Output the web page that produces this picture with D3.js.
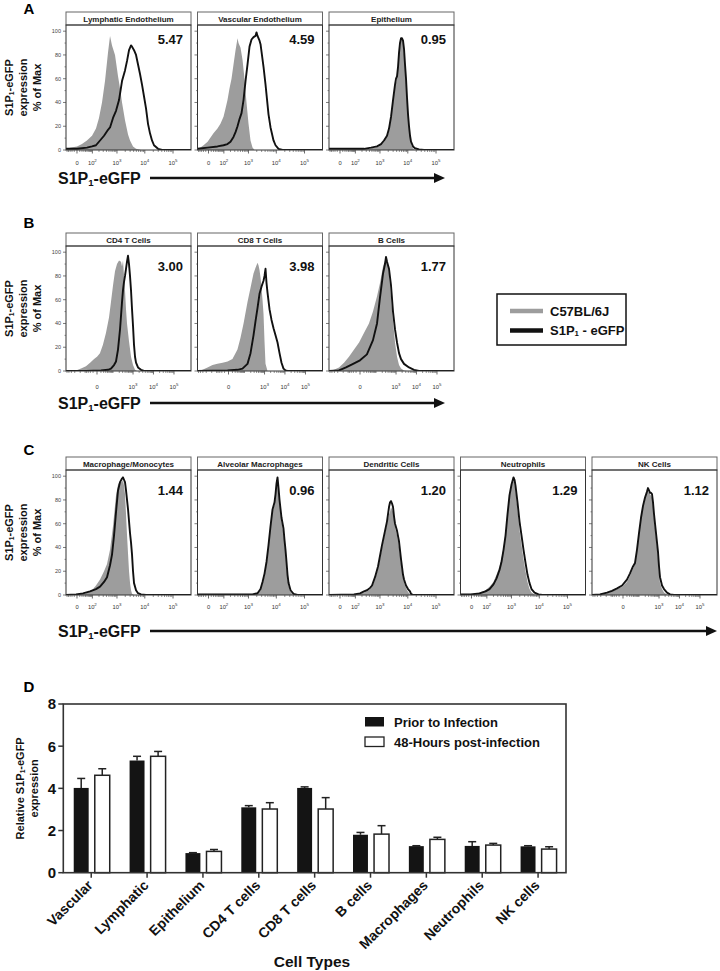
<!DOCTYPE html>
<html>
<head>
<meta charset="utf-8">
<title>S1P1-eGFP expression by cell type</title>
<style>
  body { margin: 0; background: #fff; }
  svg { display: block; font-family: "Liberation Sans", Arial, Helvetica, sans-serif; }
</style>
</head>
<body>
<svg id="fig" width="720" height="971"></svg>
<script src="https://cdn.jsdelivr.net/npm/d3@7"></script>
<script>
// ---------- histogram data: [fluorescence, % of max] ----------
// row A
const ctrlLymph = [[-58,1],[-25,2],[0,3],[20,5],[50,8],[96,12],[148,18],[200,27],[267,40],[352,58],[461,82],[550,96],[654,88],[846,80],[1092,62],[1292,52],[1528,40],[1960,25],[2520,13],[2972,8],[3804,3],[4872,1],[7340,0]];
const gfpLymph = [[-58,1],[0,1],[50,2],[96,3],[148,4],[221,8],[322,12],[461,17],[550,19],[713,27],[922,33],[1188,42],[1528,58],[1960,67],[2320,75],[2736,84],[3228,88],[3504,87],[4132,84],[4872,80],[5740,72],[6760,64],[7960,55],[9380,45],[11040,35],[13000,22],[15300,14],[18000,8],[21200,4],[29500,1],[41000,0]];
const ctrlVasc = [[-58,1],[-37,2],[-20,4],[-3,7],[20,14],[43,18],[66,22],[96,28],[120,35],[148,42],[182,52],[221,60],[267,72],[322,84],[386,94],[422,90],[504,86],[600,76],[713,60],[846,40],[1004,22],[1188,8],[1404,2],[1660,0]];
const gfpVasc = [[-58,1],[-3,2],[43,3],[96,4],[148,5],[200,7],[267,11],[322,15],[386,20],[461,26],[550,31],[654,42],[777,58],[922,72],[1092,87],[1292,93],[1528,95],[1804,96],[1960,99],[2132,96],[2520,92],[2736,89],[3504,70],[4132,55],[5280,30],[6232,19],[7960,8],[9380,4],[12000,1],[16700,0]];
const ctrlEpi = [[-58,0.5],[386,1],[922,3],[1404,7],[1804,11],[2132,16],[2520,26],[2972,40],[3504,53],[4132,60],[4872,80],[5740,92],[6232,93],[6760,90],[7960,70],[9380,42],[11040,18],[13000,5],[15300,1],[18000,0]];
const gfpEpi = [[-58,1],[43,1],[243,1],[461,2],[777,3],[1092,5],[1404,8],[1804,12],[2132,18],[2520,28],[2972,42],[3504,55],[3804,60],[4132,62],[4488,70],[4872,82],[5280,90],[5740,94],[6232,94],[6760,92],[7340,85],[7960,72],[8640,60],[9380,44],[10180,30],[11040,20],[12000,12],[13000,7],[15300,3],[18000,1.5],[25000,0.5],[37600,0]];
// row B
const ctrlCD4 = [[-562,0],[-171,0.5],[-90,2],[-44,4],[-21,7],[-7,10],[0,12],[7,15],[17,22],[31,32],[51,45],[68,58],[90,72],[117,84],[151,90],[194,93],[247,92],[278,88],[313,93],[353,80],[396,68],[445,52],[500,40],[630,25],[794,12],[998,5],[1253,1],[1573,0]];
const gfpCD4 = [[-562,0],[-44,0],[10,0.5],[44,1],[68,2],[103,5],[133,8],[171,18],[219,35],[278,58],[313,68],[353,75],[396,80],[445,86],[500,92],[562,97],[630,90],[707,80],[794,68],[891,52],[998,38],[1118,22],[1253,12],[1404,7],[1760,3],[2471,1],[3465,0]];
const ctrlCD8 = [[-562,0],[-313,1],[-171,3],[-90,5],[-44,6],[-17,7],[-2,8],[10,10],[31,18],[51,28],[79,40],[133,58],[194,70],[278,82],[353,87],[445,91],[500,89],[562,85],[630,79],[707,70],[794,60],[891,48],[998,25],[1118,6],[1404,0]];
const gfpCD8 = [[-562,0],[-2,0.5],[31,1],[68,2],[133,6],[194,15],[278,30],[353,42],[445,53],[562,65],[707,71],[891,76],[998,80],[1118,86],[1253,74],[1404,66],[1760,52],[2207,43],[2767,36],[3465,30],[4340,24],[5436,15],[6795,7],[8500,2],[10660,0.5],[13340,0]];
const ctrlBcell = [[-562,0],[-313,1],[-171,3],[-90,7],[-44,12],[-17,18],[-2,24],[10,32],[31,40],[59,50],[103,63],[151,74],[219,88],[278,93],[313,95],[353,94],[445,82],[562,62],[707,42],[891,24],[1118,12],[1404,5],[1760,2],[2471,0.5],[3465,0]];
const gfpBcell = [[-562,0],[-171,0.5],[-68,3],[-21,6],[0,9],[21,14],[59,26],[103,40],[151,62],[219,82],[278,90],[313,96],[353,92],[445,86],[562,72],[707,50],[891,35],[1118,24],[1404,15],[1760,10],[2471,6],[4340,3],[7614,1],[13340,0]];
// row C
const ctrlMac = [[-58,0],[-3,0.5],[43,1.5],[96,4],[148,8],[221,13],[322,20],[422,26],[550,38],[713,58],[922,84],[1092,93],[1292,96],[1528,95],[1660,97],[1804,92],[1960,85],[2132,68],[2320,50],[2520,35],[2736,20],[2972,10],[3228,4],[3504,1],[4132,0]];
const gfpMac = [[-58,0],[-3,0.5],[25,1.4],[75,3],[148,5],[221,7],[322,11],[422,15],[550,25],[654,34],[777,50],[922,70],[1092,88],[1292,95],[1528,98],[1660,99],[1804,97],[1960,95],[2132,88],[2520,72],[2972,52],[3228,44],[3504,34],[3804,20],[4132,10],[4872,4],[5740,1.5],[7340,0.5],[11040,0]];
const ctrlAlv = [[-58,0],[1404,0],[2132,1],[2736,4],[3228,9],[3804,16],[4488,26],[5280,40],[6232,56],[7340,70],[8640,76],[9380,83],[10180,92],[11040,96],[12000,88],[13000,78],[15300,62],[18000,52],[21200,34],[25000,13],[29500,4],[37600,0.5],[48100,0]];
const gfpAlv = [[-58,0.5],[43,0.5],[386,0.5],[1404,0.5],[2132,1.5],[2736,5],[3228,11],[3804,18],[4488,28],[5280,42],[6232,58],[7340,72],[8640,78],[9380,85],[10180,94],[11040,99],[12000,90],[13000,80],[15300,65],[18000,56],[19600,46],[21200,38],[23000,28],[25000,17],[27200,10],[32000,4],[40900,1],[56400,0]];
const ctrlDC = [[-58,0],[85,0],[164,1],[243,2],[322,3],[422,5],[504,7],[654,13],[846,22],[1004,30],[1188,40],[1528,52],[1804,60],[2132,68],[2320,70],[2520,74],[2736,72],[2972,70],[3228,63],[3504,57],[4132,50],[4872,40],[5740,26],[6760,14],[7960,8],[9380,4],[11040,1.5],[13000,0]];
const gfpDC = [[-58,0],[85,0.5],[164,1.4],[243,3],[322,4],[422,6],[504,8],[654,15],[846,24],[1004,33],[1188,42],[1528,54],[1804,62],[2132,74],[2320,78],[2520,79],[2736,77],[2972,74],[3228,66],[3504,60],[4132,54],[4872,45],[5740,30],[6760,17],[7340,13],[8640,8],[10180,5],[12000,3],[13000,1],[15300,0]];
const ctrlNeu = [[-58,0],[-3,0.5],[37,2],[85,4],[134,7],[200,11],[267,17],[352,24],[422,31],[504,40],[600,52],[713,68],[846,82],[1004,92],[1188,96],[1292,94],[1404,88],[1660,72],[1960,55],[2320,42],[2736,30],[3228,20],[3804,11],[4488,5],[5280,2],[6760,0.5],[8640,0]];
const gfpNeu = [[-58,0.5],[-3,0.5],[37,1.4],[85,3],[134,5],[200,9],[267,14],[352,21],[422,28],[504,38],[600,50],[713,68],[846,84],[1004,93],[1188,99],[1292,97],[1404,92],[1660,78],[1960,62],[2320,50],[2736,38],[3228,27],[3804,17],[4488,10],[5280,5],[6760,2],[9380,0.5],[13000,0]];
const ctrlNK = [[-562,0],[-171,0.5],[-90,1.5],[-44,3],[-17,5],[-2,7],[10,11],[21,16],[37,22],[51,26],[68,36],[90,50],[117,64],[151,74],[194,81],[247,86],[278,87],[313,86],[353,85],[445,82],[500,74],[562,64],[630,56],[794,40],[891,30],[998,18],[1118,10],[1404,5],[1760,2],[2471,0.5],[3465,0]];
const gfpNK = [[-562,0],[-219,0.5],[-90,2],[-44,3.5],[-17,5.6],[-2,8],[10,13],[21,18],[37,24],[51,27],[68,38],[90,52],[117,65],[151,75],[194,82],[247,87],[278,90],[313,88],[353,86],[396,86],[445,85],[500,78],[562,68],[630,60],[794,44],[891,36],[998,24],[1118,15],[1404,8],[1760,5],[2471,2],[3465,0.5],[5436,0]];

const titlesA = ["Lymphatic Endothelium", "Vascular Endothelium", "Epithelium"];
const ratiosA = ["5.47", "4.59", "0.95"];
const titlesB = ["CD4 T Cells", "CD8 T Cells", "B Cells"];
const ratiosB = ["3.00", "3.98", "1.77"];
const titlesC = ["Macrophage/Monocytes", "Alveolar Macrophages", "Dendritic Cells", "Neutrophils", "NK Cells"];
const ratiosC = ["1.44", "0.96", "1.20", "1.29", "1.12"];

const pctTicks = [0, 20, 40, 60, 80, 100];
const wideTicks = [0, 100, 1000, 10000, 100000];
const narrowTicks = [0, 1000, 10000, 100000];
const legendB = ["C57BL/6J", "S1P1 - eGFP"];

// ---------- panel D data ----------
const cellTypes = ["Vascular", "Lymphatic", "Epithelium", "CD4 T cells", "CD8 T cells", "B cells", "Macrophages", "Neutrophils", "NK cells"];
const priorMean = [4.02, 5.32, 0.93, 3.10, 4.02, 1.80, 1.26, 1.27, 1.25];
const priorErr  = [0.45, 0.20, 0.02, 0.08, 0.05, 0.11, 0.02, 0.20, 0.03];
const postMean  = [4.62, 5.52, 1.01, 3.02, 3.02, 1.83, 1.58, 1.31, 1.12];
const postErr   = [0.31, 0.23, 0.09, 0.30, 0.54, 0.40, 0.10, 0.08, 0.11];
const seriesD = ["Prior to Infection", "48-Hours post-infection"];
const yTicksD = [0, 2, 4, 6, 8];

// ---------- drawing ----------
const svg = d3.select("#fig");

function addS1P(t, fs, before, after) {
  t.append("tspan").text(before + "S1P");
  t.append("tspan").attr("font-size", fs * 0.6).attr("dy", fs * 0.1).text("1");
  t.append("tspan").attr("dy", -fs * 0.1).text(after);
}

const axisKinds = {
  wide:   { constant: 40, domain: [-58, 433000], ticks: wideTicks },
  narrow: { constant: 18, domain: [-562, 671600], ticks: narrowTicks }
};

const rows = [
  { letter: "A", letterY: 14, top: 12, tickDy: 15, numDy: 19, titleY: 178, arrowEnd: 445,
    titles: titlesA, ratios: ratiosA, kinds: ["wide", "wide", "wide"],
    ctrl: [ctrlLymph, ctrlVasc, ctrlEpi], gfp: [gfpLymph, gfpVasc, gfpEpi] },
  { letter: "B", letterY: 228, top: 233, tickDy: 18, numDy: 25, titleY: 403, arrowEnd: 445,
    titles: titlesB, ratios: ratiosB, kinds: ["narrow", "narrow", "narrow"],
    ctrl: [ctrlCD4, ctrlCD8, ctrlBcell], gfp: [gfpCD4, gfpCD8, gfpBcell] },
  { letter: "C", letterY: 455, top: 457, tickDy: 14, numDy: 25, titleY: 631, arrowEnd: 717,
    titles: titlesC, ratios: ratiosC, kinds: ["wide", "wide", "wide", "wide", "narrow"],
    ctrl: [ctrlMac, ctrlAlv, ctrlDC, ctrlNeu, ctrlNK], gfp: [gfpMac, gfpAlv, gfpDC, gfpNeu, gfpNK] }
];

const panelW = 125, plotH = 125, headH = 13, panelStep = 131.5, panelX0 = 66;
const yPct = d3.scaleLinear().domain([0, 105.2]).range([plotH, 0]);
const defs = svg.append("defs");

rows.forEach(row => {
  const plotTop = row.top + headH;

  svg.append("text").attr("x", 29).attr("y", row.letterY)
    .attr("font-size", 15).attr("font-weight", "bold").attr("text-anchor", "middle")
    .text(row.letter);

  // y-axis title, three lines
  const cy = plotTop + plotH / 2;
  const yt = [[9, "s1p"], [23.5, "expression"], [37, "% of Max"]];
  yt.forEach(([x, s]) => {
    const t = svg.append("text")
      .attr("transform", `translate(${x},${cy}) rotate(-90)`)
      .attr("text-anchor", "middle").attr("dy", "0.36em")
      .attr("font-size", 11).attr("font-weight", "bold").attr("fill", "#111");
    if (s === "s1p") addS1P(t, 11, "", "-eGFP"); else t.text(s);
  });

  // x-axis title and arrow
  const xt = svg.append("text").attr("x", 58).attr("y", row.titleY + 6)
    .attr("font-size", 16).attr("font-weight", "bold").attr("fill", "#111");
  addS1P(xt, 16, "", "-eGFP");
  svg.append("line").attr("x1", 150).attr("x2", row.arrowEnd - 8)
    .attr("y1", row.titleY).attr("y2", row.titleY)
    .attr("stroke", "#111").attr("stroke-width", 2.6);
  svg.append("path")
    .attr("d", `M${row.arrowEnd},${row.titleY} l-11,-5 l0,10 z`)
    .attr("fill", "#111");

  row.titles.forEach((title, i) => {
    const left = panelX0 + i * panelStep;
    const kind = axisKinds[row.kinds[i]];
    const x = d3.scaleSymlog().constant(kind.constant).domain(kind.domain).range([0, panelW]);
    const g = svg.append("g").attr("transform", `translate(${left},${plotTop})`);
    const cid = "clip" + row.letter + i;
    defs.append("clipPath").attr("id", cid)
      .append("rect").attr("width", panelW).attr("height", plotH);

    // header
    g.append("rect").attr("x", 0).attr("y", -headH).attr("width", panelW).attr("height", headH)
      .attr("fill", "#fff").attr("stroke", "#666").attr("stroke-width", 1);
    g.append("text").attr("x", panelW / 2).attr("y", -headH / 2 + 3)
      .attr("text-anchor", "middle").attr("font-size", 8).attr("font-weight", "bold")
      .attr("fill", "#222").text(title);

    const dom = x.domain();
    const ctrlPts = [[dom[0], row.ctrl[i][0][1]], ...row.ctrl[i], [dom[1], 0]];
    const gfpPts = [[dom[0], row.gfp[i][0][1]], ...row.gfp[i], [dom[1], 0]];

    const body = g.append("g").attr("clip-path", `url(#${cid})`);
    body.append("path").datum(ctrlPts)
      .attr("d", d3.area().x(d => x(d[0])).y0(plotH).y1(d => yPct(d[1])))
      .attr("fill", "#9d9d9d");
    body.append("path").datum(gfpPts)
      .attr("d", d3.line().x(d => x(d[0])).y(d => yPct(d[1])))
      .attr("fill", "none").attr("stroke", "#111").attr("stroke-width", 1.9)
      .attr("stroke-linejoin", "round");

    g.append("rect").attr("width", panelW).attr("height", plotH)
      .attr("fill", "none").attr("stroke", "#333").attr("stroke-width", 1);

    // y ticks
    const yMinor = d3.range(10, 100, 20);
    g.selectAll(null).data(pctTicks).join("line")
      .attr("x1", -3).attr("x2", 0).attr("y1", d => yPct(d)).attr("y2", d => yPct(d))
      .attr("stroke", "#444").attr("stroke-width", 0.7);
    g.selectAll(null).data(yMinor).join("line")
      .attr("x1", -1.5).attr("x2", 0).attr("y1", d => yPct(d)).attr("y2", d => yPct(d))
      .attr("stroke", "#444").attr("stroke-width", 0.6);
    if (i === 0) {
      g.selectAll(null).data(pctTicks).join("text")
        .attr("x", -5).attr("y", d => yPct(d)).attr("dy", "0.35em")
        .attr("text-anchor", "end").attr("font-size", 5.5).attr("fill", "#444")
        .text(d => d);
    }

    // x ticks
    const minor = [];
    [1, 2, 3, 4].forEach(n => d3.range(1, 10).forEach(k => {
      const v = k * Math.pow(10, n);
      if (k > 1 || n === 1) minor.push(v);
    }));
    [-10, -20, -30, -40, -50, -100, -200, -300, -400, -500].forEach(v => {
      if (v > dom[0]) minor.push(v);
    });
    g.selectAll(null).data(minor).join("line")
      .attr("x1", d => x(d)).attr("x2", d => x(d)).attr("y1", plotH).attr("y2", plotH + 2)
      .attr("stroke", "#444").attr("stroke-width", 0.6);
    g.selectAll(null).data(kind.ticks).join("line")
      .attr("x1", d => x(d)).attr("x2", d => x(d)).attr("y1", plotH).attr("y2", plotH + 3.5)
      .attr("stroke", "#444").attr("stroke-width", 0.8);
    const tl = g.selectAll(null).data(kind.ticks).join("text")
      .attr("x", d => x(d)).attr("y", plotH + row.tickDy)
      .attr("text-anchor", "middle").attr("font-size", 5.8).attr("fill", "#333");
    tl.each(function (d) {
      const t = d3.select(this);
      if (d === 0) { t.text("0"); return; }
      t.append("tspan").text("10");
      t.append("tspan").attr("font-size", 4.4).attr("dy", -2.6).text(Math.round(Math.log10(d)));
    });

    // MFI ratio
    g.append("text").attr("x", panelW - 8).attr("y", row.numDy)
      .attr("text-anchor", "end").attr("font-size", 13).attr("font-weight", "bold")
      .attr("fill", "#111").text(row.ratios[i]);
  });
});

// legend for rows A-C
const lg = svg.append("g").attr("transform", "translate(497,294)");
lg.append("rect").attr("width", 129).attr("height", 51)
  .attr("fill", "#fff").attr("stroke", "#111").attr("stroke-width", 1.5);
legendB.forEach((name, i) => {
  const yy = 17 + i * 19.5;
  lg.append("line").attr("x1", 13).attr("x2", 46).attr("y1", yy).attr("y2", yy)
    .attr("stroke", i === 0 ? "#9d9d9d" : "#111").attr("stroke-width", 4.5);
  const t = lg.append("text").attr("x", 53).attr("y", yy + 4.5)
    .attr("font-size", 13).attr("font-weight", "bold").attr("fill", "#111");
  if (i === 0) t.text(name); else addS1P(t, 13, "", " - eGFP");
});

// ---------- panel D ----------
const dLeft = 63.3, dRight = 566, dTop = 704, dBottom = 872.7;
const xD = d3.scaleBand().domain(cellTypes).range([dLeft, dRight]);
const xSub = d3.scaleBand().domain(seriesD).range([-17.5, 18.5]).paddingInner(0.29);
const yD = d3.scaleLinear().domain([0, 8]).range([dBottom, dTop]);

svg.append("text").attr("x", 29).attr("y", 692).attr("font-size", 15)
  .attr("font-weight", "bold").attr("text-anchor", "middle").text("D");

const dg = svg.append("g");
const groups = cellTypes.map((c, i) => ({
  c, cx: xD(c) + xD.bandwidth() / 2,
  vals: [[seriesD[0], priorMean[i], priorErr[i]], [seriesD[1], postMean[i], postErr[i]]]
}));
groups.forEach(gp => {
  gp.vals.forEach(([s, m, e], j) => {
    const bx = gp.cx + xSub(s);
    const bw = xSub.bandwidth();
    const mid = bx + bw / 2;
    dg.append("line").attr("x1", mid).attr("x2", mid).attr("y1", yD(m)).attr("y2", yD(m + e))
      .attr("stroke", "#222").attr("stroke-width", 1.5);
    dg.append("line").attr("x1", mid - 4).attr("x2", mid + 4).attr("y1", yD(m + e)).attr("y2", yD(m + e))
      .attr("stroke", "#222").attr("stroke-width", 1.5);
    dg.append("rect").attr("x", bx).attr("y", yD(m)).attr("width", bw).attr("height", yD(0) - yD(m))
      .attr("fill", j === 0 ? "#141414" : "#fff")
      .attr("stroke", j === 0 ? "none" : "#222").attr("stroke-width", 1.5);
  });
});

// frame
svg.append("rect").attr("x", dLeft).attr("y", dTop).attr("width", dRight - dLeft).attr("height", dBottom - dTop)
  .attr("fill", "none").attr("stroke", "#333").attr("stroke-width", 1.6);

// y axis
svg.selectAll(null).data(yTicksD).join("line")
  .attr("x1", dLeft - 5).attr("x2", dLeft).attr("y1", d => yD(d)).attr("y2", d => yD(d))
  .attr("stroke", "#333").attr("stroke-width", 1.5);
svg.selectAll(null).data(yTicksD).join("text")
  .attr("x", 56).attr("y", d => yD(d)).attr("dy", "0.36em")
  .attr("text-anchor", "end").attr("font-size", 15).attr("font-weight", "bold")
  .attr("fill", "#111").text(d => d);

const ytD = svg.append("text").attr("transform", `translate(20,${(dTop + dBottom) / 2}) rotate(-90)`)
  .attr("text-anchor", "middle").attr("dy", "0.36em")
  .attr("font-size", 11).attr("font-weight", "bold").attr("fill", "#111");
addS1P(ytD, 11, "Relative ", "-eGFP");
svg.append("text").attr("transform", `translate(34,${(dTop + dBottom) / 2}) rotate(-90)`)
  .attr("text-anchor", "middle").attr("dy", "0.36em")
  .attr("font-size", 11).attr("font-weight", "bold").attr("fill", "#111").text("expression");

// x axis
svg.selectAll(null).data(groups).join("line")
  .attr("x1", d => d.cx).attr("x2", d => d.cx).attr("y1", dBottom).attr("y2", dBottom + 5)
  .attr("stroke", "#333").attr("stroke-width", 1.5);
svg.selectAll(null).data(groups).join("text")
  .attr("transform", d => `translate(${d.cx - 1},${dBottom + 10}) rotate(-45)`)
  .attr("text-anchor", "end").attr("dy", "0.35em")
  .attr("font-size", 14).attr("font-weight", "bold").attr("fill", "#111")
  .text(d => d.c);
svg.append("text").attr("x", 312).attr("y", 967).attr("text-anchor", "middle")
  .attr("font-size", 15.5).attr("font-weight", "bold").attr("fill", "#111").text("Cell Types");

// legend D
const ld = svg.append("g").attr("transform", "translate(365,717)");
seriesD.forEach((s, j) => {
  ld.append("rect").attr("x", 0).attr("y", j * 20).attr("width", 19).attr("height", 9.5)
    .attr("fill", j === 0 ? "#141414" : "#fff").attr("stroke", "#222").attr("stroke-width", j === 0 ? 0 : 1.3);
  ld.append("text").attr("x", 29).attr("y", j * 20 + 9.5)
    .attr("font-size", 13).attr("font-weight", "bold").attr("fill", "#111").text(s);
});
</script>
</body>
</html>
